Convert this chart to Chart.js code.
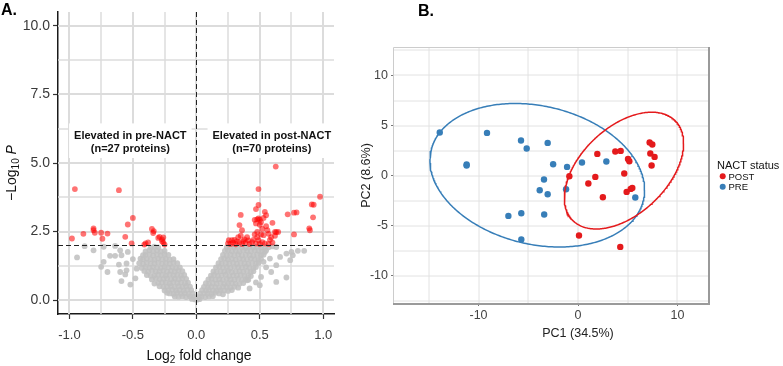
<!DOCTYPE html>
<html>
<head>
<meta charset="utf-8">
<script src="https://cdn.jsdelivr.net/npm/chart.js@4.4.0/dist/chart.umd.min.js"></script>
<style>
  body { margin: 0; background: #fff; width: 783px; height: 366px; position: relative; overflow: hidden; }
  canvas { position: absolute; top: 0; }
  #volcano { left: 0; }
  #pca { left: 345px; }
</style>
</head>
<body>
<canvas id="volcano" width="345" height="366"></canvas>
<canvas id="pca" width="438" height="366"></canvas>
<script>
// ---------- panel A: volcano plot ----------
const fcCut = 0;   // dashed vertical line (log2 FC)
const pCut = 2;    // dashed horizontal line (-log10 P)
const volcanoXGrid = [-1, -0.75, -0.5, -0.25, 0, 0.25, 0.5, 0.75, 1];
const volcanoXLabels = [-1, -0.5, 0, 0.5, 1];
const volcanoYGrid = [0, 1.25, 2.5, 3.75, 5, 6.25, 7.5, 8.75, 10];
const volcanoYLabels = [0, 2.5, 5, 7.5, 10];

// not significant, left part of the cloud
const greyLeft = [
  [-0.01,0.03],[-0.035,0.05],
  [-0.02,0.12],[-0.05,0.14],[-0.08,0.12],[-0.11,0.15],[-0.14,0.13],[-0.17,0.14],
  [-0.03,0.25],[-0.06,0.23],[-0.09,0.26],[-0.12,0.24],[-0.15,0.27],[-0.18,0.23],[-0.21,0.25],[-0.23,0.27],
  [-0.04,0.37],[-0.07,0.39],[-0.1,0.36],[-0.13,0.38],[-0.16,0.35],[-0.19,0.39],[-0.22,0.37],[-0.25,0.36],
  [-0.05,0.5],[-0.08,0.52],[-0.11,0.49],[-0.14,0.51],[-0.17,0.48],[-0.2,0.52],[-0.23,0.5],[-0.26,0.49],[-0.29,0.51],
  [-0.065,0.64],[-0.09,0.62],[-0.12,0.65],[-0.15,0.63],[-0.18,0.66],[-0.21,0.62],[-0.24,0.64],[-0.27,0.65],[-0.3,0.63],[-0.33,0.61],
  [-0.08,0.78],[-0.11,0.8],[-0.14,0.77],[-0.17,0.79],[-0.2,0.76],[-0.23,0.8],[-0.26,0.78],[-0.29,0.77],[-0.32,0.8],[-0.35,0.76],
  [-0.095,0.92],[-0.12,0.9],[-0.15,0.93],[-0.18,0.91],[-0.21,0.94],[-0.24,0.9],[-0.27,0.92],[-0.3,0.93],[-0.33,0.91],[-0.36,0.89],[-0.39,0.92],
  [-0.11,1.06],[-0.14,1.08],[-0.17,1.05],[-0.2,1.07],[-0.23,1.04],[-0.26,1.08],[-0.29,1.06],[-0.32,1.05],[-0.35,1.08],[-0.38,1.04],[-0.41,1.07],
  [-0.13,1.2],[-0.16,1.18],[-0.19,1.21],[-0.22,1.19],[-0.25,1.22],[-0.28,1.18],[-0.31,1.2],[-0.34,1.21],[-0.37,1.19],[-0.4,1.22],[-0.43,1.18],
  [-0.15,1.35],[-0.18,1.37],[-0.21,1.34],[-0.24,1.36],[-0.27,1.33],[-0.3,1.37],[-0.33,1.35],[-0.36,1.34],[-0.39,1.37],[-0.42,1.33],[-0.45,1.35],
  [-0.18,1.5],[-0.21,1.48],[-0.24,1.51],[-0.27,1.49],[-0.3,1.52],[-0.33,1.48],[-0.36,1.5],[-0.39,1.51],[-0.42,1.49],[-0.44,1.52],
  [-0.22,1.65],[-0.25,1.67],[-0.28,1.64],[-0.31,1.66],[-0.34,1.63],[-0.37,1.67],[-0.4,1.65],[-0.42,1.64],
  [-0.25,1.8],[-0.28,1.78],[-0.31,1.81],[-0.34,1.79],[-0.37,1.82],[-0.4,1.78],
  [-0.3,1.93],[-0.33,1.95],[-0.36,1.92]
];
// not significant, right part of the cloud
const greyRight = [
  [0.005,0.02],[0.025,0.04],
  [0.015,0.11],[0.04,0.13],[0.07,0.12],[0.1,0.14],[0.13,0.15],
  [0.03,0.24],[0.06,0.26],[0.09,0.25],[0.12,0.23],[0.15,0.27],[0.18,0.25],[0.21,0.22],
  [0.045,0.37],[0.075,0.35],[0.1,0.38],[0.13,0.36],[0.16,0.34],[0.19,0.37],[0.22,0.36],[0.25,0.34],[0.28,0.37],
  [0.06,0.49],[0.09,0.47],[0.12,0.5],[0.15,0.48],[0.18,0.46],[0.21,0.5],[0.24,0.48],[0.27,0.47],[0.3,0.49],[0.33,0.46],
  [0.075,0.62],[0.1,0.6],[0.13,0.63],[0.16,0.61],[0.19,0.64],[0.22,0.6],[0.25,0.62],[0.28,0.63],[0.31,0.61],[0.34,0.6],[0.37,0.63],
  [0.095,0.76],[0.12,0.78],[0.15,0.75],[0.18,0.77],[0.21,0.74],[0.24,0.78],[0.27,0.76],[0.3,0.75],[0.33,0.78],[0.36,0.74],[0.39,0.77],[0.41,0.75],
  [0.115,0.9],[0.14,0.92],[0.17,0.89],[0.2,0.91],[0.23,0.93],[0.26,0.88],[0.29,0.91],[0.32,0.9],[0.35,0.92],[0.38,0.89],[0.41,0.91],[0.43,0.88],
  [0.135,1.05],[0.16,1.03],[0.19,1.06],[0.22,1.04],[0.25,1.07],[0.28,1.03],[0.31,1.05],[0.34,1.06],[0.37,1.04],[0.4,1.07],[0.43,1.03],[0.45,1.06],
  [0.155,1.2],[0.18,1.22],[0.21,1.19],[0.24,1.21],[0.27,1.18],[0.3,1.22],[0.33,1.2],[0.36,1.19],[0.39,1.22],[0.42,1.2],[0.45,1.18],[0.47,1.21],
  [0.175,1.35],[0.2,1.33],[0.23,1.36],[0.26,1.34],[0.29,1.37],[0.32,1.33],[0.35,1.36],[0.38,1.35],[0.41,1.33],[0.44,1.37],[0.47,1.34],[0.49,1.36],
  [0.195,1.5],[0.22,1.52],[0.25,1.49],[0.28,1.51],[0.31,1.48],[0.34,1.52],[0.37,1.5],[0.4,1.49],[0.43,1.52],[0.46,1.5],[0.49,1.48],[0.51,1.51],
  [0.21,1.65],[0.24,1.63],[0.27,1.66],[0.3,1.64],[0.33,1.67],[0.36,1.63],[0.39,1.66],[0.42,1.65],[0.45,1.63],[0.48,1.67],[0.51,1.64],[0.53,1.66],
  [0.225,1.8],[0.25,1.82],[0.28,1.79],[0.31,1.81],[0.34,1.78],[0.37,1.82],[0.4,1.8],[0.43,1.79],[0.46,1.82],[0.49,1.8],[0.52,1.78],[0.55,1.81],
  [0.24,1.93],[0.27,1.95],[0.3,1.92],[0.33,1.96],[0.36,1.94],[0.39,1.91],[0.42,1.95],[0.45,1.93],[0.48,1.96],[0.51,1.92],[0.54,1.95],[0.57,1.93],[0.6,1.96],[0.63,1.94]
];
// scattered grey points away from the cloud
const greyStray = [
  [-0.94,1.56],[-0.88,1.97],[-0.81,1.82],[-0.73,1.95],[-0.75,1.22],[-0.70,1.03],[-0.73,1.40],[-0.68,1.62],
  [-0.64,1.62],[-0.64,1.98],[-0.60,1.82],[-0.59,1.64],[-0.61,1.30],[-0.60,1.03],[-0.55,1.34],[-0.55,1.09],
  [-0.56,0.94],[-0.59,0.70],[-0.52,0.57],[-0.54,1.76],[-0.48,0.80],[-0.50,1.50],[-0.47,1.15],
  [0.54,1.76],[0.58,1.52],[0.63,1.28],[0.66,1.58],[0.71,1.70],[0.75,1.76],[0.80,1.80],[0.85,1.80],
  [0.74,1.46],[0.59,1.03],[0.63,0.67],[0.71,0.83],[0.51,0.85],[0.50,0.55],[0.42,0.43],[0.40,0.73],
  [0.76,1.64],[0.55,1.20],[0.53,1.40],[0.47,0.65]
];
// significant, elevated in pre-NACT
const downPre = [
  [-0.957,4.05],[-0.61,4.01],[-0.50,3.00],[-0.54,2.76],[-0.56,2.31],[-0.51,2.07],[-0.98,2.25],[-0.89,2.42],[-0.81,2.62],
  [-0.80,2.46],[-0.75,2.46],[-0.74,2.24],[-0.70,2.43],[-0.35,2.60],[-0.335,2.52],[-0.29,2.31],[-0.26,2.29],[-0.27,2.15],
  [-0.25,2.03],[-0.41,2.03],[-0.38,2.11],[-0.81,2.55],[-0.34,2.45],[-0.27,2.22],[-0.30,2.27],[-0.40,2.07],[-0.26,2.10]
];
// significant, elevated in post-NACT
const upPost = [
  [0.626,4.87],[0.49,4.05],[0.975,3.77],[0.91,3.49],[0.925,3.48],[0.92,3.02],[0.89,2.62],[0.895,2.55],[0.77,2.40],[0.72,3.13],
  [0.77,3.19],[0.79,3.20],[0.49,3.47],[0.47,3.32],[0.35,3.11],[0.54,3.22],[0.55,3.10],[0.49,2.98],[0.48,2.95],[0.50,2.94],
  [0.46,2.93],[0.34,2.74],[0.36,2.55],[0.47,2.80],[0.55,2.70],[0.60,2.82],[0.48,2.49],[0.53,2.37],[0.57,2.42],[0.62,2.49],
  [0.63,2.48],[0.645,2.49],[0.59,2.30],[0.256,2.19],[0.25,2.07],[0.28,2.19],[0.30,2.20],[0.33,2.30],[0.34,2.12],[0.38,2.22],
  [0.39,2.10],[0.41,2.18],[0.44,2.12],[0.47,2.07],[0.49,2.19],[0.50,2.05],[0.52,2.12],[0.54,2.07],[0.27,2.05],[0.29,2.10],
  [0.31,2.04],[0.32,2.14],[0.36,2.05],[0.37,2.15],[0.42,2.05],[0.45,2.20],[0.48,2.30],[0.51,2.40],[0.52,2.60],[0.50,2.75],
  [0.56,2.55],[0.58,2.20],[0.60,2.10],[0.62,2.35],[0.57,2.05],[0.35,2.35],[0.40,2.30],[0.51,2.85],[0.53,3.00],[0.46,2.40]
];

// ---------- panel B: PCA ----------
const pcaGroups = ['POST', 'PRE'];
const postPC1 = [1.94, 3.75, 4.29, 5.03, 5.16, 7.2, 7.47, 7.27, 7.7, 7.4, -0.87, 1.74, 1.04, 4.65, 2.5, 4.89, 5.3, 5.46, 0.1, 4.25];
const postPC2 = [2.16, 2.4, 2.46, 1.66, 1.43, 3.3, 3.1, 2.2, 1.86, 1.0, -0.07, -0.14, -0.8, 0.2, -2.17, -1.64, -1.34, -1.24, -6.0, -7.14];
const prePC1 = [-13.9, -9.15, -11.2, -11.2, -5.73, -5.16, -3.05, -3.42, -3.85, -3.05, -7.0, -5.7, -3.4, -5.7, -2.5, -1.1, 0.4, 2.85, -1.2, 5.76];
const prePC2 = [4.3, 4.26, 1.1, 1.0, 3.5, 2.7, 3.26, -0.4, -1.47, -1.87, -4.04, -3.77, -3.9, -6.4, 1.13, 0.86, 1.3, 1.4, -1.37, -2.2];
const pcaXGrid = [-15, -10, -5, 0, 5, 10];
const pcaXLabels = [-10, 0, 10];
const pcaYGrid = [-12.5, -10, -7.5, -5, -2.5, 0, 2.5, 5, 7.5, 10, 12.5];
const pcaYLabels = [-10, -5, 0, 5, 10];

const FONT = '"Liberation Sans", Arial, Helvetica, sans-serif';
Chart.defaults.font.family = FONT;
Chart.defaults.animation = false;
Chart.defaults.events = [];

const RED = '#E41A1C', BLUE = '#377EB8';
const toXY = arr => arr.map(([x, y]) => ({x, y}));
const zipXY = (xs, ys) => xs.map((x, i) => ({x, y: ys[i]}));
const isIn = (list, v) => list.some(t => Math.abs(t - v) < 1e-9);

// text in several runs (subscripts, italics), centred on (x, y)
function drawRuns(ctx, runs, x, y, angle) {
  ctx.save();
  ctx.translate(x, y);
  ctx.rotate(angle || 0);
  ctx.textAlign = 'left';
  ctx.textBaseline = 'alphabetic';
  let total = 0;
  runs.forEach(r => {
    ctx.font = `${r.style || ''} ${r.size}px ${FONT}`;
    r.w = ctx.measureText(r.t).width;
    total += r.w;
  });
  let cx = -total / 2;
  runs.forEach(r => {
    ctx.font = `${r.style || ''} ${r.size}px ${FONT}`;
    ctx.fillStyle = r.color || '#111';
    ctx.fillText(r.t, cx, r.dy || 0);
    cx += r.w;
  });
  ctx.restore();
}

// grid lines under the data, at the scale's own tick values
function drawGridLines(chart, color, widthFor) {
  const {ctx, chartArea: ca, scales: {x, y}} = chart;
  ctx.save();
  ctx.strokeStyle = color;
  x.ticks.forEach(t => {
    const px = Math.round(x.getPixelForValue(t.value));
    ctx.lineWidth = widthFor('x', t.value);
    ctx.beginPath(); ctx.moveTo(px, ca.top); ctx.lineTo(px, ca.bottom); ctx.stroke();
  });
  y.ticks.forEach(t => {
    const py = Math.round(y.getPixelForValue(t.value));
    ctx.lineWidth = widthFor('y', t.value);
    ctx.beginPath(); ctx.moveTo(ca.left, py); ctx.lineTo(ca.right, py); ctx.stroke();
  });
  ctx.restore();
}

// robust covariance (multivariate t, as MASS::cov.trob) and the 95% ellipse of stat_ellipse
function ellipsePoints(xs, ys, level) {
  const n = xs.length, nu = 5, p = 2;
  const sum = a => a.reduce((s, v) => s + v, 0);
  let w = new Array(n).fill(1);
  let lx = sum(xs) / n, ly = sum(ys) / n;
  let dx, dy;
  for (let iter = 0; iter < 25; iter++) {
    const w0 = w.slice();
    dx = xs.map(v => v - lx);
    dy = ys.map(v => v - ly);
    const sw = sum(w);
    let sxx = 0, sxy = 0, syy = 0;
    for (let i = 0; i < n; i++) {
      sxx += w[i] * dx[i] * dx[i]; sxy += w[i] * dx[i] * dy[i]; syy += w[i] * dy[i] * dy[i];
    }
    sxx /= sw; sxy /= sw; syy /= sw;
    const det = sxx * syy - sxy * sxy;
    w = dx.map((a, i) => (nu + p) / (nu + (syy * a * a - 2 * sxy * a * dy[i] + sxx * dy[i] * dy[i]) / det));
    const sw2 = sum(w);
    lx = sum(xs.map((v, i) => v * w[i])) / sw2;
    ly = sum(ys.map((v, i) => v * w[i])) / sw2;
    if (w.every((v, i) => Math.abs(v - w0[i]) < 0.01)) break;
  }
  let cxx = 0, cxy = 0, cyy = 0;
  for (let i = 0; i < n; i++) {
    cxx += w[i] * dx[i] * dx[i]; cxy += w[i] * dx[i] * dy[i]; cyy += w[i] * dy[i] * dy[i];
  }
  cxx /= n; cxy /= n; cyy /= n;
  const a = Math.sqrt(cxx), b = cxy / a, c = Math.sqrt(cyy - b * b);
  const d = n - 1;
  const qf = (d / 2) * (Math.pow(1 - level, -2 / d) - 1);  // F(2, d) quantile
  const radius = Math.sqrt(2 * qf);
  const pts = [];
  for (let k = 0; k <= 360; k++) {
    const t = k * Math.PI / 180, ct = Math.cos(t), st = Math.sin(t);
    pts.push({x: lx + radius * ct * a, y: ly + radius * (ct * b + st * c)});
  }
  return pts;
}

// ----- panel A -----
const volcanoNotes = [
  {x: -0.52, y: [5.86, 5.40], lines: ['Elevated in pre-NACT', `(n=${downPre.length} proteins)`]},
  {x: 0.595, y: [5.86, 5.40], lines: ['Elevated in post-NACT', `(n=${upPost.length} proteins)`]}
];

const volcanoDecor = {
  id: 'volcanoDecor',
  beforeDatasetsDraw(chart) {
    drawGridLines(chart, '#dcdcdc', (axis, v) => isIn(axis === 'x' ? volcanoXLabels : volcanoYLabels, v) ? 2 : 1.5);
    const {ctx, scales: {x, y}} = chart;
    ctx.save();
    ctx.font = `bold 11px ${FONT}`;
    ctx.fillStyle = '#fff';
    volcanoNotes.forEach(n => {
      const w = Math.max(...n.lines.map(l => ctx.measureText(l).width));
      const cx = x.getPixelForValue(n.x);
      const top = y.getPixelForValue(n.y[0]) - 16;
      const bottom = y.getPixelForValue(n.y[1]) + 6;
      ctx.fillRect(cx - w / 2 - 5, top, w + 10, bottom - top);
    });
    ctx.restore();
  },
  afterDatasetsDraw(chart) {
    const {ctx, chartArea: ca, scales: {x, y}} = chart;
    ctx.save();
    ctx.strokeStyle = '#222';
    ctx.lineWidth = 1;
    ctx.setLineDash([5, 3]);
    const hy = Math.round(y.getPixelForValue(pCut)) + 0.5;
    ctx.beginPath(); ctx.moveTo(ca.left, hy); ctx.lineTo(ca.right, hy); ctx.stroke();
    const vx = Math.round(x.getPixelForValue(fcCut)) + 0.5;
    ctx.beginPath(); ctx.moveTo(vx, ca.top); ctx.lineTo(vx, ca.bottom); ctx.stroke();
    ctx.setLineDash([]);
    ctx.font = `bold 11px ${FONT}`;
    ctx.fillStyle = '#111';
    ctx.textAlign = 'center';
    ctx.textBaseline = 'alphabetic';
    volcanoNotes.forEach(n => {
      const cx = x.getPixelForValue(n.x);
      n.lines.forEach((l, i) => ctx.fillText(l, cx, y.getPixelForValue(n.y[i])));
    });
    ctx.restore();
  },
  afterDraw(chart) {
    const ctx = chart.ctx;
    drawRuns(ctx, [{t: 'Log', size: 14}, {t: '2', size: 10, dy: 3}, {t: ' fold change', size: 14}], 199, 360);
    drawRuns(ctx, [{t: '\u2212Log', size: 14}, {t: '10', size: 10, dy: 3}, {t: ' ', size: 14}, {t: 'P', size: 14, style: 'italic'}], 16, 173, -Math.PI / 2);
    ctx.save();
    ctx.font = `bold 16px ${FONT}`;
    ctx.fillStyle = '#000';
    ctx.fillText('A.', 1, 15);
    ctx.restore();
  }
};

const pointStyle = {pointRadius: 2.9, pointBorderWidth: 0, borderWidth: 0, pointHoverRadius: 0};

new Chart(document.getElementById('volcano'), {
  type: 'scatter',
  data: {
    datasets: [
      {data: toXY(downPre), backgroundColor: 'rgba(255,0,0,0.55)', order: 1, ...pointStyle},
      {data: toXY(upPost), backgroundColor: 'rgba(255,0,0,0.55)', order: 1, ...pointStyle},
      {data: toXY([...greyLeft, ...greyRight, ...greyStray]), backgroundColor: 'rgba(192,192,192,0.88)', order: 2, ...pointStyle}
    ]
  },
  options: {
    responsive: false,
    devicePixelRatio: 1,
    layout: {padding: {top: 12, right: 11, left: 0, bottom: 0}},
    plugins: {legend: {display: false}, tooltip: {enabled: false}},
    scales: {
      x: {
        type: 'linear', min: -1.09, max: 1.085,
        afterBuildTicks: s => { s.ticks = volcanoXGrid.map(v => ({value: v})); },
        afterFit: s => { s.height = 52; },
        ticks: {
          autoSkip: false, maxRotation: 0, padding: 9, color: '#3a3a3a', font: {size: 13},
          callback: v => isIn(volcanoXLabels, v) ? v.toFixed(1) : ''
        },
        grid: {
          drawOnChartArea: false,
          tickLength: 5, tickWidth: 1.2,
          tickColor: c => (c.tick && isIn(volcanoXLabels, c.tick.value)) ? '#333' : 'rgba(0,0,0,0)'
        },
        border: {display: true, color: '#1a1a1a', width: 1.5}
      },
      y: {
        type: 'linear', min: -0.5, max: 10.5,
        afterBuildTicks: s => { s.ticks = volcanoYGrid.map(v => ({value: v})); },
        afterFit: s => { s.width = 58; },
        ticks: {
          autoSkip: false, padding: 3, color: '#3a3a3a', font: {size: 14},
          callback: v => isIn(volcanoYLabels, v) ? v.toFixed(1) : ''
        },
        grid: {
          drawOnChartArea: false,
          tickLength: 5, tickWidth: 1.2,
          tickColor: c => (c.tick && isIn(volcanoYLabels, c.tick.value)) ? '#333' : 'rgba(0,0,0,0)'
        },
        border: {display: true, color: '#1a1a1a', width: 1.5}
      }
    }
  },
  plugins: [volcanoDecor]
});

// ----- panel B -----
const pcaDecor = {
  id: 'pcaDecor',
  beforeDatasetsDraw(chart) {
    drawGridLines(chart, '#e2e2e2', () => 1);
  },
  afterDatasetsDraw(chart) {
    const {ctx, chartArea: ca} = chart;
    ctx.save();
    ctx.lineWidth = 1;
    ctx.strokeStyle = '#cccccc';
    ctx.beginPath();
    ctx.moveTo(ca.left - 0.5, ca.bottom); ctx.lineTo(ca.left - 0.5, ca.top - 0.5); ctx.lineTo(ca.right, ca.top - 0.5);
    ctx.stroke();
    ctx.lineWidth = 2;
    ctx.strokeStyle = '#9a9a9a';
    ctx.beginPath();
    ctx.moveTo(ca.right + 1, ca.top - 1); ctx.lineTo(ca.right + 1, ca.bottom + 1); ctx.lineTo(ca.left - 1, ca.bottom + 1);
    ctx.stroke();
    ctx.restore();
  },
  afterDraw(chart) {
    const ctx = chart.ctx;
    drawRuns(ctx, [{t: 'PC1 (34.5%)', size: 12.5, color: '#222'}], chart.scales.x.getPixelForValue(0), 336.5);
    drawRuns(ctx, [{t: 'PC2 (8.6%)', size: 12.5, color: '#222'}], 24.5, chart.scales.y.getPixelForValue(0), -Math.PI / 2);
    // legend
    ctx.save();
    ctx.fillStyle = '#111';
    ctx.font = `11px ${FONT}`;
    ctx.textAlign = 'left';
    ctx.fillText('NACT status', 372, 168.5);
    const items = chart.data.datasets.filter(d => d.legendKey);
    ctx.font = `9.5px ${FONT}`;
    items.forEach((d, i) => {
      const yy = 176.2 + i * 10.6;
      ctx.fillStyle = d.backgroundColor;
      ctx.beginPath(); ctx.arc(377.7, yy, 3, 0, Math.PI * 2); ctx.fill();
      ctx.fillStyle = '#111';
      ctx.fillText(d.label, 383.5, yy + 3.4);
    });
    ctx.font = `bold 16px ${FONT}`;
    ctx.fillStyle = '#000';
    ctx.fillText('B.', 73, 16);
    ctx.restore();
  }
};

const pcaPoint = {pointRadius: 3.2, pointBorderWidth: 0, borderWidth: 0, pointHoverRadius: 0};
const ringStyle = {showLine: true, pointRadius: 0, borderWidth: 1.5, fill: false, tension: 0};

new Chart(document.getElementById('pca'), {
  type: 'scatter',
  data: {
    datasets: [
      {label: pcaGroups[0], legendKey: true, data: zipXY(postPC1, postPC2), backgroundColor: RED, order: 2, ...pcaPoint},
      {label: pcaGroups[1], legendKey: true, data: zipXY(prePC1, prePC2), backgroundColor: BLUE, order: 2, ...pcaPoint},
      {data: ellipsePoints(postPC1, postPC2, 0.95), borderColor: RED, order: 1, ...ringStyle},
      {data: ellipsePoints(prePC1, prePC2, 0.95), borderColor: BLUE, order: 1, ...ringStyle}
    ]
  },
  options: {
    responsive: false,
    devicePixelRatio: 1,
    layout: {padding: {top: 48, right: 75, left: 0, bottom: 0}},
    plugins: {legend: {display: false}, tooltip: {enabled: false}},
    scales: {
      x: {
        type: 'linear', min: -18.5, max: 13.07,
        afterBuildTicks: s => { s.ticks = pcaXGrid.map(v => ({value: v})); },
        afterFit: s => { s.height = 63; },
        ticks: {
          autoSkip: false, maxRotation: 0, padding: 2, color: '#444', font: {size: 12.5},
          callback: v => isIn(pcaXLabels, v) ? String(v) : ''
        },
        grid: {
          drawOnChartArea: false, tickLength: 3,
          tickColor: c => (c.tick && isIn(pcaXLabels, c.tick.value)) ? '#777' : 'rgba(0,0,0,0)'
        },
        border: {display: false}
      },
      y: {
        type: 'linear', min: -12.75, max: 12.75,
        afterBuildTicks: s => { s.ticks = pcaYGrid.map(v => ({value: v})); },
        afterFit: s => { s.width = 49; },
        ticks: {
          autoSkip: false, padding: 3, color: '#444', font: {size: 12.5},
          callback: v => isIn(pcaYLabels, v) ? String(v) : ''
        },
        grid: {
          drawOnChartArea: false, tickLength: 3,
          tickColor: c => (c.tick && isIn(pcaYLabels, c.tick.value)) ? '#777' : 'rgba(0,0,0,0)'
        },
        border: {display: false}
      }
    }
  },
  plugins: [pcaDecor]
});
</script>
</body>
</html>
